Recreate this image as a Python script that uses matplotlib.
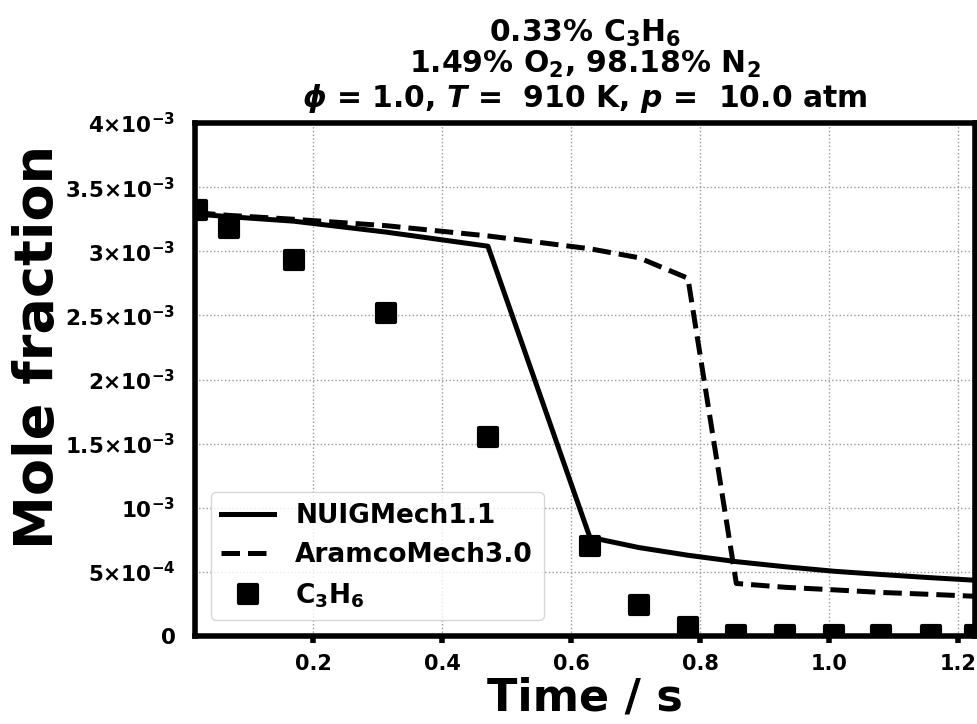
import matplotlib
matplotlib.use("Agg")
import matplotlib.pyplot as plt
from matplotlib.markers import MarkerStyle

# --- data ---
time_s = [0.02, 0.07, 0.17, 0.313, 0.471, 0.629, 0.705, 0.781, 0.856, 0.932, 1.008, 1.08, 1.157, 1.226]
exp_c3h6 = [3.32e-3, 3.18e-3, 2.93e-3, 2.52e-3, 1.55e-3, 0.70e-3, 0.24e-3, 0.07e-3,
            0.005e-3, 0.005e-3, 0.005e-3, 0.005e-3, 0.005e-3, 0.005e-3]
nuig = [3.29e-3, 3.27e-3, 3.235e-3, 3.15e-3, 3.04e-3, 0.77e-3, 0.69e-3, 0.63e-3,
        0.58e-3, 0.54e-3, 0.505e-3, 0.48e-3, 0.455e-3, 0.435e-3]
aramco = [3.30e-3, 3.28e-3, 3.25e-3, 3.20e-3, 3.12e-3, 3.02e-3, 2.95e-3, 2.79e-3,
          0.41e-3, 0.38e-3, 0.36e-3, 0.34e-3, 0.325e-3, 0.31e-3]

xtick_values = [0.2, 0.4, 0.6, 0.8, 1.0, 1.2]
xtick_labels = ["0.2", "0.4", "0.6", "0.8", "1.0", "1.2"]
ytick_values = [0, 5e-4, 1e-3, 1.5e-3, 2e-3, 2.5e-3, 3e-3, 3.5e-3, 4e-3]
ytick_labels = ["0", r"$5{\times}10^{-4}$", r"$10^{-3}$", r"$1.5{\times}10^{-3}$", r"$2{\times}10^{-3}$",
                r"$2.5{\times}10^{-3}$", r"$3{\times}10^{-3}$", r"$3.5{\times}10^{-3}$", r"$4{\times}10^{-3}$"]

plt.rcParams["font.family"] = "DejaVu Sans"
plt.rcParams["font.weight"] = "bold"
plt.rcParams["mathtext.fontset"] = "custom"
plt.rcParams["mathtext.rm"] = "DejaVu Sans:bold"
plt.rcParams["mathtext.bf"] = "DejaVu Sans:bold"
plt.rcParams["mathtext.it"] = "DejaVu Sans:bold:italic"

fig = plt.figure(figsize=(9.77, 7.24), dpi=100)
ax = fig.add_axes([0.1996, 0.1215, 0.7984, 0.7085])

ax.plot(time_s, nuig, color="black", linewidth=3.6, linestyle="-", label="NUIGMech1.1")
ax.plot(time_s, aramco, color="black", linewidth=3.6, linestyle="--", label="AramcoMech3.0")
sq = MarkerStyle("s", joinstyle="round")
ax.plot(time_s, exp_c3h6, linestyle="none", marker=sq, markersize=12.5, markeredgewidth=3,
        color="black", label="C$_3$H$_6$")

ax.set_xlim(0.017, 1.226)
ax.set_ylim(0, 4e-3)
ax.set_xticks(xtick_values)
ax.set_xticklabels(xtick_labels)
ax.set_yticks(ytick_values)
ax.set_yticklabels(ytick_labels)
ax.tick_params(axis="x", labelsize=15, length=5, width=4, direction="out", pad=8)
ax.tick_params(axis="y", labelsize=15.5, length=0, pad=14)
for lbl in ax.get_xticklabels() + ax.get_yticklabels():
    lbl.set_fontweight("bold")

for sp in ax.spines.values():
    sp.set_linewidth(4)

ax.grid(True, linestyle=":", color="#999999", linewidth=1)

ax.set_xlabel("Time / s", fontsize=32, fontweight="bold", labelpad=2)
ax.set_ylabel("Mole fraction", fontsize=39, fontweight="bold")
ax.yaxis.set_label_coords(-0.168, 0.563)
ax.set_title("0.33% C$_3$H$_6$\n1.49% O$_2$, 98.18% N$_2$\n"
             r"$\phi$ = 1.0, $T$ =  910 K, $p$ =  10.0 atm",
             fontsize=21.5, fontweight="bold", pad=12, linespacing=1.03)

leg = ax.legend(loc="lower left", handlelength=2.0, borderaxespad=0.6,
                prop={"weight": "bold", "size": 19})
leg.get_frame().set_edgecolor("#cccccc")

fig.savefig("out.png", dpi=100)
plt.close(fig)
